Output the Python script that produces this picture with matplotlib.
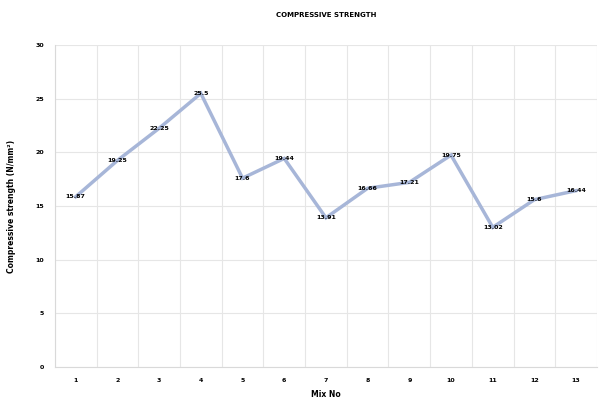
import matplotlib.pyplot as plt
import numpy as np

# mix numbers and compressive strength values
mix_no = ['1', '2', '3', '4', '5', '6', '7', '8', '9', '10', '11', '12', '13']
strength = [15.87, 19.25, 22.25, 25.5, 17.6, 19.44, 13.91, 16.66, 17.21, 19.75, 13.02, 15.6, 16.44]
y_ticks = [0, 5, 10, 15, 20, 25, 30]

fig = plt.figure(figsize=(6.03, 3.99), dpi=100)
ax = fig.add_axes([0.091, 0.08, 0.899, 0.807])

x = np.arange(len(mix_no))
ax.plot(x, strength, color='#A7B6D8', linewidth=2.5, solid_joinstyle='miter', zorder=3)

# data labels on the points
for xi, v in zip(x, strength):
    ax.text(xi, v, '{:g}'.format(v), fontsize=4.5, fontweight='bold',
            ha='center', va='center', zorder=4)

ax.set_xlim(-0.5, len(mix_no) - 0.5)
ax.set_ylim(0, 30)
ax.set_yticks(y_ticks)
ax.set_xticks(x)
ax.set_xticklabels(mix_no)
# vertical grid between categories
ax.set_xticks(np.arange(-0.5, len(mix_no)), minor=True)
ax.grid(axis='y', which='major', color='#E6E6E6', linewidth=0.8)
ax.grid(axis='x', which='minor', color='#E6E6E6', linewidth=0.8)
ax.set_axisbelow(True)
ax.tick_params(which='both', length=0, labelsize=4.5, pad=8)
for lab in ax.get_xticklabels() + ax.get_yticklabels():
    lab.set_fontweight('bold')

for s in ['top', 'right']:
    ax.spines[s].set_visible(False)
ax.spines['left'].set_color('#D9D9D9')
ax.spines['bottom'].set_color('#D9D9D9')

ax.set_title('COMPRESSIVE STRENGTH', fontsize=5, fontweight='bold', pad=20)
ax.set_xlabel('Mix No', fontsize=5.5, fontweight='bold', labelpad=5)
ax.set_ylabel('Compressive strength (N/mm²)', fontsize=5.5, fontweight='bold', labelpad=14)

fig.savefig('out.png', dpi=100)
